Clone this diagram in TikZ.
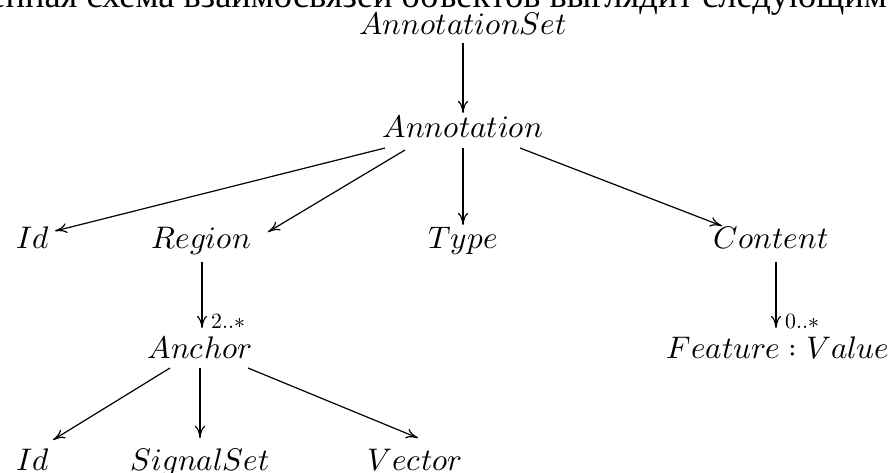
\documentclass[tikz,border=0pt]{standalone}
\usepackage{fontspec}
\usepackage{unicode-math}
\setmathfont{Latin Modern Math}
\newfontfamily\cyrserif{Liberation Serif}
\usetikzlibrary{arrows.meta}

\tikzset{
  obj/.style={inner sep=0pt, anchor=base, font=\fontsize{15.6}{18}\selectfont},
  arr/.style={line width=0.6pt, -{To[length=6pt,width=5pt]}},
  mult/.style={inner sep=0pt, anchor=base west, xshift=4.5pt,
               font=\fontsize{10.9}{13}\selectfont},
}

\begin{document}
\begin{tikzpicture}[x=0.5pt, y=-0.5pt]
  \useasboundingbox (0,0) rectangle (895,472);
  \clip (0,0) rectangle (895,472);

  % running text line above the diagram
  \node[inner sep=0pt, anchor=base west]
    (caption) at (-11,7)
    {\cyrserif\fontsize{18.2}{22}\selectfont енная схема взаимосвязей объектов выглядит следующим образом:};

  % objects
  \node[obj] (aset) at (463,34)  {$AnnotationSet$};
  \node[obj] (ann)  at (463,137) {$Annotation$};
  \node[obj] (id1)  at (33,248)  {$Id$};
  \node[obj] (reg)  at (201,248) {$Region$};
  \node[obj] (typ)  at (463,248) {$Type$};
  \node[obj] (con)  at (771,248) {$Content$};
  \node[obj] (anc)  at (200,358) {$Anchor$};
  \node[obj] (feat) at (778,358) {$Feature:Value$};
  \node[obj] (id2)  at (33,470)  {$Id$};
  \node[obj] (sig)  at (200,470) {$SignalSet$};
  \node[obj] (vec)  at (415,470) {$Vector$};

  % composition arrows
  \draw[arr] ([shift={(0,9)}]aset.base)    -- ([shift={(0,-24)}]ann.base);
  \draw[arr] ([shift={(-78,11)}]ann.base)  -- ([shift={(22,-17)}]id1.base);
  \draw[arr] ([shift={(-58,13)}]ann.base)  -- ([shift={(67,-16)}]reg.base);
  \draw[arr] ([shift={(0,11)}]ann.base)    -- ([shift={(0,-23)}]typ.base);
  \draw[arr] ([shift={(57,11)}]ann.base)   -- ([shift={(-49,-22)}]con.base);
  \draw[arr] ([shift={(1,14)}]reg.base)    -- ([shift={(2,-30)}]anc.base)
    node[mult] {$2..*$};
  \draw[arr] ([shift={(5,14)}]con.base)    -- ([shift={(-2,-30)}]feat.base)
    node[mult] {$0..*$};
  \draw[arr] ([shift={(-30,10)}]anc.base)  -- ([shift={(20,-30)}]id2.base);
  \draw[arr] ([shift={(0,10)}]anc.base)    -- ([shift={(0,-32)}]sig.base);
  \draw[arr] ([shift={(48,10)}]anc.base)   -- ([shift={(3,-32)}]vec.base);
\end{tikzpicture}
\end{document}
